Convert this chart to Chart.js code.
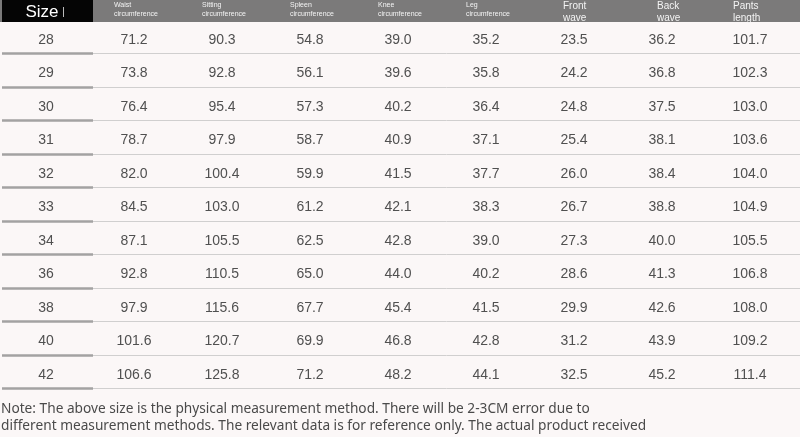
<!DOCTYPE html>
<html>
<head>
<meta charset="utf-8">
<script src="https://cdn.jsdelivr.net/npm/chart.js@4/dist/chart.umd.min.js"></script>
<style>
  html, body { margin: 0; padding: 0; background: #fbf7f7; }
  #wrap { width: 800px; height: 437px; position: relative; }
</style>
</head>
<body>
<div id="wrap"><canvas id="tabela"></canvas></div>
<script>
// column headers (top line / bottom line)
let cabecalho1 = ['Size', 'Waist', 'Sitting', 'Spleen', 'Knee', 'Leg', 'Front', 'Back', 'Pants'];
let cabecalho2 = ['', 'circumference', 'circumference', 'circumference', 'circumference', 'circumference', 'wave', 'wave', 'length'];

let tamanhos = ['28', '29', '30', '31', '32', '33', '34', '36', '38', '40', '42'];
let cintura = [71.2, 73.8, 76.4, 78.7, 82.0, 84.5, 87.1, 92.8, 97.9, 101.6, 106.6];
let quadril = [90.3, 92.8, 95.4, 97.9, 100.4, 103.0, 105.5, 110.5, 115.6, 120.7, 125.8];
let coxa = [54.8, 56.1, 57.3, 58.7, 59.9, 61.2, 62.5, 65.0, 67.7, 69.9, 71.2];
let joelho = [39.0, 39.6, 40.2, 40.9, 41.5, 42.1, 42.8, 44.0, 45.4, 46.8, 48.2];
let barra = [35.2, 35.8, 36.4, 37.1, 37.7, 38.3, 39.0, 40.2, 41.5, 42.8, 44.1];
let ganchoFrente = [23.5, 24.2, 24.8, 25.4, 26.0, 26.7, 27.3, 28.6, 29.9, 31.2, 32.5];
let ganchoTras = [36.2, 36.8, 37.5, 38.1, 38.4, 38.8, 40.0, 41.3, 42.6, 43.9, 45.2];
let comprimento = [101.7, 102.3, 103.0, 103.6, 104.0, 104.9, 105.5, 106.8, 108.0, 109.2, 111.4];

let nota = [
    'Note: The above size is the physical measurement method. There will be 2-3CM error due to',
    'different measurement methods. The relevant data is for reference only. The actual product received',
    'shall prevail.'
];

let colunas = [tamanhos, cintura, quadril, coxa, joelho, barra, ganchoFrente, ganchoTras, comprimento];

// each column becomes one dataset, the cell text is drawn at the point position
let datasets = colunas.map(function (valores, c) {
    return {
        label: cabecalho1[c],
        data: valores.map(function (v, r) {
            return { x: c, y: r, texto: c == 0 ? v : v.toFixed(1) };
        }),
        pointRadius: 0,
        showLine: false
    };
});

const fundo = {
    id: 'fundo',
    beforeDraw(chart) {
        const c = chart.ctx;
        c.save();
        c.fillStyle = '#fbf7f7';
        c.fillRect(0, 0, chart.width, chart.height);
        c.restore();
    }
};

const desenhaTabela = {
    id: 'desenhaTabela',
    afterDatasetsDraw(chart) {
        const c = chart.ctx;
        const sx = chart.scales.x;
        const sy = chart.scales.y;
        c.save();

        // header bar
        c.fillStyle = '#7b7a7a';
        c.fillRect(0, 0, chart.width, 22);
        c.fillStyle = '#050505';
        c.fillRect(2, 0, 91, 22);

        c.fillStyle = '#ffffff';
        c.textBaseline = 'middle';
        c.font = '17px "Liberation Sans", Arial, sans-serif';
        c.textAlign = 'center';
        c.fillText(cabecalho1[0], 42, 12);
        c.fillStyle = '#bbbbbb';
        c.fillRect(63, 7, 1, 10);

        c.fillStyle = '#f4f4f4';
        c.textAlign = 'left';
        for (let i = 1; i < cabecalho1.length; i++) {
            let cx = sx.getPixelForValue(i);
            if (i <= 5) {
                c.font = '7px "Liberation Sans", Arial, sans-serif';
                c.fillText(cabecalho1[i], cx - 20, 5);
                c.fillText(cabecalho2[i], cx - 20, 14);
            } else {
                let desloc = i == 6 ? -11 : (i == 7 ? -5 : -17);
                c.font = '10px "Liberation Sans", Arial, sans-serif';
                c.fillText(cabecalho1[i], cx + desloc, 6);
                c.fillText(cabecalho2[i], cx + desloc, 18);
            }
        }

        // row separators
        for (let r = 0; r < tamanhos.length; r++) {
            let y = Math.round(sy.getPixelForValue(r + 0.39)) + 0.5;
            c.strokeStyle = '#d0cfcf';
            c.lineWidth = 1;
            c.beginPath();
            c.moveTo(93, y);
            c.lineTo(chart.width, y);
            c.stroke();
            c.strokeStyle = '#a3a2a2';
            c.lineWidth = 2.5;
            c.beginPath();
            c.moveTo(2, y);
            c.lineTo(93, y);
            c.stroke();
        }

        // cell values
        c.fillStyle = '#505050';
        c.textAlign = 'center';
        c.textBaseline = 'middle';
        c.font = '14px "Liberation Sans", Arial, sans-serif';
        chart.data.datasets.forEach(function (ds, i) {
            chart.getDatasetMeta(i).data.forEach(function (p, r) {
                c.fillText(ds.data[r].texto, p.x, p.y);
            });
        });

        // note below the table
        c.fillStyle = '#4a4a4a';
        c.textAlign = 'left';
        c.font = '13.7px "Noto Sans", "DejaVu Sans", sans-serif';
        nota.forEach(function (linha, k) {
            c.fillText(linha, 1, 409 + k * 17.5);
        });
        c.restore();
    }
};

var ctx = document.getElementById('tabela').getContext('2d');

function gerarTabela() {
    let tabela = new Chart(ctx, {
        type: 'scatter',
        data: { datasets: datasets },
        options: {
            responsive: true,
            maintainAspectRatio: false,
            animation: false,
            layout: { padding: 0 },
            plugins: {
                legend: { display: false },
                tooltip: { enabled: false }
            },
            scales: {
                x: { type: 'linear', display: false, min: -46 / 88, max: 8 + 50 / 88 },
                y: { type: 'linear', display: false, reverse: true, min: -40 / 33.5, max: 397 / 33.5 }
            }
        },
        plugins: [fundo, desenhaTabela]
    });
}
gerarTabela();
</script>
</body>
</html>
